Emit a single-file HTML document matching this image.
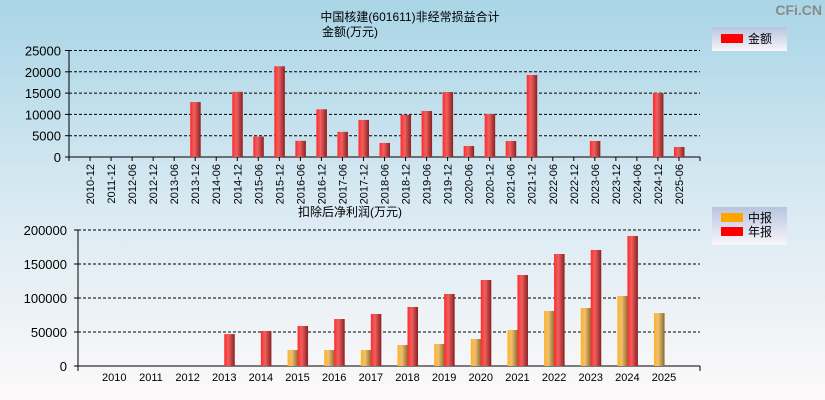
<!DOCTYPE html>
<html><head><meta charset="utf-8">
<style>
body{margin:0;width:825px;height:400px;overflow:hidden;}
svg{display:block;font-family:"Liberation Sans","Noto Sans CJK SC",sans-serif;}
</style></head>
<body>
<svg id="c" width="825" height="400" xmlns="http://www.w3.org/2000/svg">
<defs>
<linearGradient id="bg" x1="0" y1="0" x2="0" y2="1">
<stop offset="0" stop-color="#a9d5e6"/><stop offset="0.55" stop-color="#dcebf3"/><stop offset="1" stop-color="#fdf9f9"/></linearGradient>
<linearGradient id="red" x1="0" y1="0" x2="1" y2="0">
<stop offset="0" stop-color="#ff2a2a"/><stop offset="0.4" stop-color="#f06060"/><stop offset="1" stop-color="#8a2020"/></linearGradient>
<linearGradient id="org" x1="0" y1="0" x2="1" y2="0">
<stop offset="0" stop-color="#ffb020"/><stop offset="0.4" stop-color="#f0c070"/><stop offset="1" stop-color="#8a6a30"/></linearGradient>
<linearGradient id="lg" x1="0" y1="0" x2="0" y2="1">
<stop offset="0" stop-color="#b8c4e0"/><stop offset="1" stop-color="#f8f6fa"/></linearGradient>
</defs>
<rect width="825" height="400" fill="url(#bg)"/>
<text x="822" y="15" font-size="14" font-weight="bold" text-anchor="end" fill="#8a8a8a">CFi.CN</text>
<text x="410" y="21" font-size="12" text-anchor="middle">中国核建(601611)非经常损益合计</text>
<text x="350" y="36" font-size="12" text-anchor="middle">金额(万元)</text>
<text x="350" y="216" font-size="12" text-anchor="middle">扣除后净利润(万元)</text>
<g>
<rect x="712" y="27" width="75" height="24" fill="url(#lg)"/>
<rect x="721" y="34" width="22" height="9" fill="#ff0000"/>
<text x="748" y="43" font-size="12">金额</text></g>
<g>
<rect x="712" y="207" width="75" height="38" fill="url(#lg)"/>
<rect x="721" y="213" width="22" height="9" fill="#ffa500"/>
<text x="748" y="222" font-size="12">中报</text>
<rect x="721" y="227" width="22" height="9" fill="#ff0000"/>
<text x="748" y="236" font-size="12">年报</text></g>
<g id="top"></g><g id="bot"></g>
</svg>
<script>
const topCats=["2010-12","2011-12","2012-06","2012-12","2013-06","2013-12","2014-06","2014-12","2015-06","2015-12","2016-06","2016-12","2017-06","2017-12","2018-06","2018-12","2019-06","2019-12","2020-06","2020-12","2021-06","2021-12","2022-06","2022-12","2023-06","2023-12","2024-06","2024-12","2025-06"];
const topVals=[0,0,0,0,0,12900,0,15300,4800,21300,3800,11200,5900,8700,3300,9900,10800,15260,2580,10100,3760,19250,0,0,3760,0,0,15020,2350];
const topTicks=[0,5000,10000,15000,20000,25000];
const botCats=["2010","2011","2012","2013","2014","2015","2016","2017","2018","2019","2020","2021","2022","2023","2024","2025"];
const botHalf=[0,0,0,0,0,23500,23500,23500,30900,32400,39700,52900,80900,85300,102900,77900];
const botYear=[0,0,0,47000,51500,58800,69100,76500,86800,105900,126500,133800,164700,170600,191200,0];
const botTicks=[0,50000,100000,150000,200000];
const NS="http://www.w3.org/2000/svg";
function mk(p,t,a,txt){const e=document.createElementNS(NS,t);for(const k in a)e.setAttribute(k,a[k]);if(txt!==undefined)e.textContent=txt;p.appendChild(e);return e;}
const T=document.getElementById('top');
const tx0=69,tx1=700,ty0=157,ty1=50.5,tmax=25000;
const tStep=(tx1-tx0)/(topCats.length+1);
const tX=i=>tx0+tStep*(i+1);
const tY=v=>ty0-(v/tmax)*(ty0-ty1);
topTicks.forEach(v=>{
 if(v>0){const l=mk(T,'line',{x1:tx0,x2:tx1,y1:tY(v),y2:tY(v),stroke:'#000','stroke-dasharray':'3,2','stroke-width':1});
 
 }
 const t=mk(T,'text',{x:tx0-8,y:tY(v)+5,'font-size':13,'text-anchor':'end'},v);
 
 
 mk(T,'line',{x1:tx0-4,x2:tx0,y1:tY(v),y2:tY(v),stroke:'#000'});
});
mk(T,'line',{x1:tx0,x2:tx0,y1:ty1,y2:ty0+4,stroke:'#000'});
mk(T,'line',{x1:tx0,x2:tx1,y1:ty0,y2:ty0,stroke:'#000'});
mk(T,'line',{x1:tx1,x2:tx1,y1:ty0,y2:ty0+4,stroke:'#000'});
topCats.forEach((c,i)=>{
 const x=tX(i);
 if(topVals[i]>0){const r=mk(T,'rect',{x:x-5,y:tY(topVals[i]),width:10.5,height:ty0-tY(topVals[i]),fill:'url(#red)'});
 
 }
 mk(T,'line',{x1:x,x2:x,y1:ty0,y2:ty0+4,stroke:'#000'});
 const t=mk(T,'text',{x:0,y:0,'font-size':11,'text-anchor':'end',transform:`translate(${x+4},${ty0+7}) rotate(-90)`},c);
 
 
});
const B=document.getElementById('bot');
const bx0=78,bx1=700,by0=366,by1=230,bmax=200000;
const bStep=36.65,bFirst=114.3;
const bX=i=>bFirst+bStep*i;
const bY=v=>by0-(v/bmax)*(by0-by1);
botTicks.forEach(v=>{
 if(v>0){const l=mk(B,'line',{x1:bx0,x2:bx1,y1:bY(v),y2:bY(v),stroke:'#000','stroke-dasharray':'3,2'});
 
 }
 const t=mk(B,'text',{x:bx0-11,y:bY(v)+5,'font-size':13,'text-anchor':'end'},v);
 
 
 mk(B,'line',{x1:bx0-4,x2:bx0,y1:bY(v),y2:bY(v),stroke:'#000'});
});
mk(B,'line',{x1:bx0,x2:bx0,y1:by1,y2:by0+5,stroke:'#000'});
mk(B,'line',{x1:bx0,x2:bx1,y1:by0,y2:by0,stroke:'#000'});
mk(B,'line',{x1:bx1,x2:bx1,y1:by0,y2:by0+5,stroke:'#000'});
botCats.forEach((c,i)=>{
 const x=bX(i);
 if(botHalf[i]>0){const r=mk(B,'rect',{x:x-10,y:bY(botHalf[i]),width:10.5,height:by0-bY(botHalf[i]),fill:'url(#org)'});
 
 }
 if(botYear[i]>0){const r=mk(B,'rect',{x:x,y:bY(botYear[i]),width:10.5,height:by0-bY(botYear[i]),fill:'url(#red)'});
 
 }
 const t=mk(B,'text',{x:x,y:by0+15,'font-size':11,'text-anchor':'middle'},c);
 
 
});
</script>
</body></html>
